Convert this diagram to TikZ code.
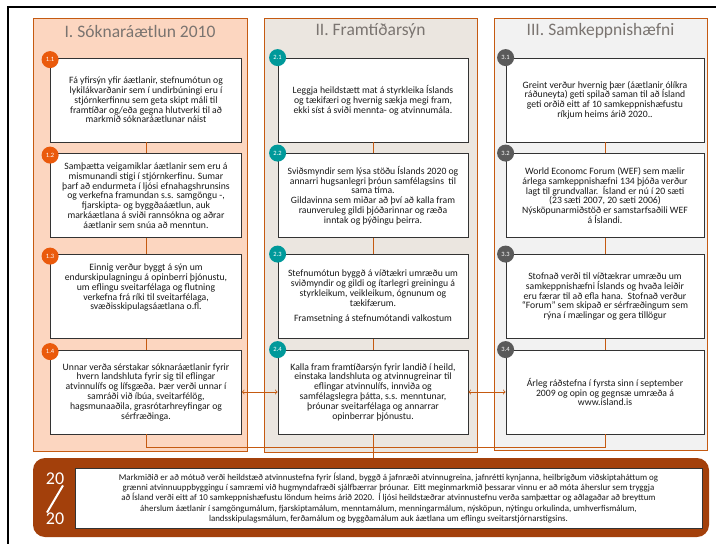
\documentclass[tikz,border=0pt]{standalone}
\usepackage{fontspec}
\setmainfont{Carlito}
\usetikzlibrary{positioning}
\definecolor{rust}{HTML}{C55A11}
\definecolor{peach}{HTML}{FCD6C0}
\definecolor{stone}{HTML}{EBE6E0}
\definecolor{mist}{HTML}{F2F2F2}
\definecolor{headgray}{HTML}{7A7470}
\definecolor{badgeA}{HTML}{EA5A0C}
\definecolor{badgeB}{HTML}{00999A}
\definecolor{badgeC}{HTML}{5A5A5A}
\definecolor{bandbrown}{HTML}{A3400B}
\begin{document}
\begin{tikzpicture}[x=1pt, y=-1pt,
column/.style={draw=rust, line width=0.8pt},
headnode/.style={text=headgray, font=\fontsize{17.5}{20}\selectfont},
stepbox/.style={rectangle, draw=black!80, fill=white, line width=0.8pt, minimum height=84pt, align=center, inner sep=2pt, text=black!90, font=\fontsize{9.7}{9.8}\selectfont},
badge/.style={circle, fill=#1, text=white, minimum size=17pt, inner sep=0pt, font=\fontsize{6.5}{6.5}\selectfont},
link/.style={draw=rust, line width=0.8pt},
]
\useasboundingbox (0,0) rectangle (716,544);
\fill[white] (0,0) rectangle (716,544);
\draw[line width=1.5pt] (8,544) -- (8,7) -- (716,7);

%Columns
\draw[column, fill=peach] (33,18) rectangle (247,451);
\draw[column, fill=stone] (264,18) rectangle (477,452);
\draw[column, fill=mist]  (494,18) rectangle (707,450);
\node[headnode] (h1) at (140,31) {I. Sóknaráætlun 2010};
\node[headnode] (h2) at (370.5,31) {II. Framtíðarsýn};
\node[headnode] (h3) at (600.5,31) {III. Samkeppnishæfni};

%Boxes
\node[stepbox, minimum width=191pt] (b11) at (146,100) {Fá yfirsýn yfir áætlanir, stefnumótun og\\lykilákvarðanir sem í undirbúningi eru í\\stjórnkerfinnu sem geta skipt máli til\\framtíðar og/eða gegna hlutverki til að\\markmið sóknaráætlunar náist};
\node[stepbox, minimum width=191pt] (b12) at (146,195.5) {Samþætta veigamiklar áætlanir sem eru á\\mismunandi stigi í stjórnkerfinu. Sumar\\þarf að endurmeta í ljósi efnahagshrunsins\\og verkefna framundan s.s. samgöngu -,\\fjarskipta- og byggðaáætlun, auk\\markáætlana á sviði rannsókna og aðrar\\áætlanir sem snúa að menntun.};
\node[stepbox, minimum width=191pt, text depth=19pt] (b13) at (146,296.5) {Einnig verður byggt á sýn um\\endurskipulagningu á opinberri þjónustu,\\um eflingu sveitarfélaga og flutning\\verkefna frá ríki til sveitarfélaga,\\svæðisskipulagsáætlana o.fl.};
\node[stepbox, minimum width=191pt] (b14) at (146,392) {Unnar verða sérstakar sóknaráætlanir fyrir\\hvern landshluta fyrir sig til eflingar\\atvinnulífs og lífsgæða. Þær verði unnar í\\samráði við íbúa, sveitarfélög,\\hagsmunaaðila, grasrótarhreyfingar og\\sérfræðinga.};

\node[stepbox, minimum width=190pt] (b21) at (373,100) {Leggja heildstætt mat á styrkleika Íslands\\og tækifæri og hvernig sækja megi fram,\\ekki síst á sviði mennta- og atvinnumála.};
\node[stepbox, minimum width=190pt] (b22) at (373,195.5) {Sviðsmyndir sem lýsa stöðu Íslands 2020 og\\annarri hugsanlegri þróun samfélagsins\ \ til\\sama tíma.\\Gildavinna sem miðar að því að kalla fram\\raunveruleg gildi þjóðarinnar og ræða\\inntak og þýðingu þeirra.};
\node[stepbox, minimum width=190pt] (b23) at (373,296.5) {Stefnumótun byggð á víðtækri umræðu um\\sviðmyndir og gildi og ítarlegri greiningu á\\styrkleikum, veikleikum, ógnunum og\\tækifærum.\\[5pt]Framsetning á stefnumótandi valkostum};
\node[stepbox, minimum width=190pt] (b24) at (373,392) {Kalla fram framtíðarsýn fyrir landið í heild,\\einstaka landshluta og atvinnugreinar til\\eflingar atvinnulífs, innviða og\\samfélagslegra þátta, s.s. menntunar,\\þróunar sveitarfélaga og annarrar\\opinberrar þjónustu.};

\node[stepbox, minimum width=198pt] (b31) at (605,100) {Greint verður hvernig þær (áætlanir ólíkra\\ráðuneyta) geti spilað saman til að Ísland\\geti orðið eitt af 10 samkeppnishæfustu\\ríkjum heims árið 2020..};
\node[stepbox, minimum width=198pt] (b32) at (605,195.5) {World Economc Forum (WEF) sem mælir\\árlega samkeppnishæfni 134 þjóða verður\\lagt til grundvallar.\ \ Ísland er nú í 20 sæti\\(23 sæti 2007, 20 sæti 2006)\\Nýsköpunarmiðstöð er samstarfsaðili WEF\\á Íslandi.};
\node[stepbox, minimum width=198pt] (b33) at (605,296.5) {Stofnað verði til víðtækrar umræðu um\\samkeppnishæfni Íslands og hvaða leiðir\\eru færar til að efla hana.\ \ Stofnað verður\\“Forum” sem skipað er sérfræðingum sem\\rýna í mælingar og gera tillögur};
\node[stepbox, minimum width=198pt] (b34) at (605,392) {Árleg ráðstefna í fyrsta sinn í september\\2009 og opin og gegnsæ umræða á\\www.island.is};

%Badges
\node[badge=badgeA] (n11) at ([yshift=-2pt]b11.north west) {1.1};
\node[badge=badgeA] (n12) at ([yshift=-2pt]b12.north west) {1.2};
\node[badge=badgeA] (n13) at ([yshift=-2pt]b13.north west) {1.3};
\node[badge=badgeA] (n14) at ([yshift=-2pt]b14.north west) {1.4};
\node[badge=badgeB] (n21) at (b21.north west) {2.1};
\node[badge=badgeB] (n22) at (b22.north west) {2.2};
\node[badge=badgeB] (n23) at (b23.north west) {2.3};
\node[badge=badgeB] (n24) at (b24.north west) {2.4};
\node[badge=badgeC] (n31) at (b31.north west) {3.1};
\node[badge=badgeC] (n32) at (b32.north west) {3.2};
\node[badge=badgeC] (n33) at (b33.north west) {3.3};
\node[badge=badgeC] (n34) at (b34.north west) {3.4};

%Goal band
\node[fill=bandbrown, rounded corners=12pt, minimum width=676pt, minimum height=79pt] (goal) at (371,497.5) {};
\node[draw=black!80, fill=white, line width=0.8pt, minimum width=627pt, minimum height=60pt, align=center, inner sep=2pt, text=black!90, font=\fontsize{8.9}{10.4}\selectfont] (goaltext) at (388.5,498) {Markmiðið er að mótuð verði heildstæð atvinnustefna fyrir Ísland, byggð á jafnræði atvinnugreina, jafnrétti kynjanna, heilbrigðum viðskiptaháttum og\\grænni atvinnuuppbyggingu í samræmi við hugmyndafræði sjálfbærrar þróunar.\ \ Eitt meginmarkmið þessarar vinnu er að móta áherslur sem tryggja\\að Ísland verði eitt af 10 samkeppnishæfustu löndum heims árið 2020.\ \ Í ljósi heildstæðrar atvinnustefnu verða samþættar og aðlagaðar að breyttum\\áherslum áætlanir í samgöngumálum, fjarskiptamálum, menntamálum, menningarmálum, nýsköpun, nýtingu orkulinda, umhverfismálum,\\landsskipulagsmálum, ferðamálum og byggðamálum auk áætlana um eflingu sveitarstjórnarstigsins.};
\node[text=white, font=\fontsize{18}{18}\selectfont] (yr1) at (55,479) {20};
\node[text=white, font=\fontsize{18}{18}\selectfont] (yr2) at (55,519) {20};
\draw[white, line width=2pt] ([xshift=-8pt,yshift=-3pt]yr2.north) -- ([xshift=8pt,yshift=3pt]yr1.south);

%Lines
\draw[link] (b11.south) -- (b12.north);
\draw[link] (b12.south) -- (b13.north);
\draw[link] (b13.south) -- (b14.north);
\draw[link] (b21.south) -- (b22.north);
\draw[link] (b22.south) -- (b23.north);
\draw[link] (b23.south) -- (b24.north);
\draw[link] (b31.south) -- (b32.north);
\draw[link] (b32.south) -- (b33.north);
\draw[link] (b33.south) -- (b34.north);
\draw[link, <->] (b14.east) -- (b24.west);
\draw[link, <->] (b24.east) -- (b34.west);
\coordinate (bus) at (0,447);
\draw[link] (b14.south) |- (b34.south |- bus) -- (b34.south);
\draw[link] (b24.south) -- (b24.south |- goal.north);
\end{tikzpicture}
\end{document}
